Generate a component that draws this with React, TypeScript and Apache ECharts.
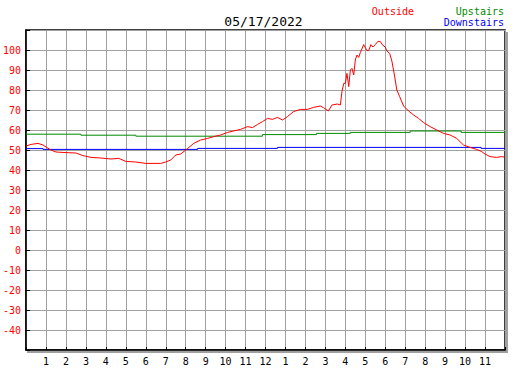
import React, { useEffect, useRef } from "react";
import * as echarts from "echarts";

const titleText = "05/17/2022";
const seriesNames = ["Outside", "Upstairs", "Downstairs"];
const seriesColors = ["#ff0000", "#008c00", "#0000ff"];

const outsideHours = [0, 0.25, 0.6, 0.85, 1.0, 1.25, 1.5, 2.0, 2.5, 2.85, 3.25, 3.75, 4.25, 4.65, 5.0, 5.5, 6.0, 6.75, 7.0, 7.25, 7.5, 7.75, 8.1, 8.4, 8.75, 9.1, 9.4, 9.75, 10.1, 10.4, 10.75, 11.1, 11.35, 11.6, 11.85, 12.1, 12.35, 12.6, 12.85, 13.1, 13.4, 13.75, 14.1, 14.4, 14.75, 14.9, 15.15, 15.33, 15.6, 15.75, 15.83, 15.92, 16.0, 16.08, 16.17, 16.25, 16.33, 16.42, 16.5, 16.58, 16.67, 16.75, 16.92, 17.08, 17.17, 17.28, 17.38, 17.5, 17.63, 17.75, 17.88, 18.0, 18.08, 18.22, 18.33, 18.45, 18.58, 18.72, 18.92, 19.17, 19.42, 19.67, 19.92, 20.25, 20.58, 20.92, 21.25, 21.58, 21.92, 22.25, 22.58, 22.83, 23.0, 23.25, 23.58, 23.83, 23.95];
const outsideTemps = [52, 52.8, 53.3, 52.5, 51.5, 50, 49, 48.7, 48.5, 47.2, 46.3, 46, 45.5, 45.8, 44.3, 44, 43.3, 43.3, 44, 45, 47.5, 48, 50.8, 53.3, 55, 55.8, 56.7, 57.5, 58.8, 59.5, 60.3, 61.7, 61.2, 62.8, 64.2, 65.8, 65.3, 66.3, 65, 66.7, 69.2, 70.3, 70.3, 71.3, 72, 71.2, 69.5, 72.5, 73, 72.5, 79.2, 83.3, 83.3, 88.3, 81.7, 90, 90.8, 87.5, 95, 97.5, 96.3, 98.7, 102.7, 99.7, 99.7, 102.7, 101.5, 102.7, 104.3, 104.3, 102.3, 101.5, 99.5, 98.3, 94.5, 88, 80, 76.7, 72, 69.5, 67.5, 65.8, 63.7, 61.7, 60, 58.3, 57.5, 55.8, 52.5, 51.3, 50.3, 49.2, 48, 46.7, 46.3, 46.7, 46.5];

const upstairsHours = [0, 2.75, 5.5, 11.85, 14.55, 16.25, 19.25, 21.8, 24];
const upstairsTemps = [57.9, 57.4, 56.9, 57.7, 58.3, 58.8, 59.5, 58.8, 58.8];

const downstairsHours = [0, 0.85, 8.6, 12.6, 22.8, 24];
const downstairsTemps = [50.7, 50.3, 50.8, 51.3, 50.8, 50.8];

const yMin = -50;
const yMax = 110;
const yStep = 10;
const xMin = 0;
const xMax = 24;

const pairs = (xs: number[], ys: number[]) => xs.map((x, i) => [x, ys[i]]);

const MONO = "'DejaVu Sans Mono', 'Liberation Mono', monospace";

export default function App() {
  const ref = useRef<HTMLDivElement>(null);
  useEffect(() => {
    document.body.style.margin = "0";
    if (!ref.current) return;
    const chart = echarts.init(ref.current, null, { renderer: "svg" });
    const gridLeft = 25;
    const gridTop = 30;
    const gridW = 480;
    const gridH = 320;
    chart.setOption({
      animation: false,
      backgroundColor: "#ffffff",
      title: {
        text: titleText,
        left: "center",
        top: 10,
        textStyle: { fontFamily: MONO, fontSize: 13, fontWeight: "normal", color: "#000" },
      },
      grid: {
        left: gridLeft,
        top: gridTop,
        width: gridW,
        height: gridH,
        show: true,
        backgroundColor: "#ffffff",
        borderColor: "#000000",
        borderWidth: 1.5,
      },
      graphic: [
        { type: "rect", shape: { x: gridLeft + gridW + 1, y: gridTop + 2, width: 2, height: gridH + 1 }, style: { fill: "#a0a0a0" }, silent: true },
        { type: "rect", shape: { x: gridLeft + 2, y: gridTop + gridH + 1, width: gridW + 1, height: 2 }, style: { fill: "#a0a0a0" }, silent: true },
        { type: "text", x: 414, y: 11, style: { text: seriesNames[0], fill: seriesColors[0], font: `10px ${MONO}`, textAlign: "right", textVerticalAlign: "middle" } },
        { type: "text", x: 504, y: 11, style: { text: seriesNames[1], fill: seriesColors[1], font: `10px ${MONO}`, textAlign: "right", textVerticalAlign: "middle" } },
        { type: "text", x: 504, y: 22.5, style: { text: seriesNames[2], fill: seriesColors[2], font: `10px ${MONO}`, textAlign: "right", textVerticalAlign: "middle" } },
      ],
      xAxis: {
        type: "value",
        min: xMin,
        max: xMax,
        interval: 1,
        axisLine: { show: true, onZero: false, lineStyle: { color: "#000", width: 1.5 } },
        axisTick: { show: true, inside: true, length: 3, lineStyle: { color: "#000", width: 1 } },
        splitLine: { show: true, lineStyle: { color: "#a0a0a0", width: 1 } },
        axisLabel: {
          margin: 6,
          fontFamily: MONO,
          fontSize: 10,
          color: "#000",
          formatter: (v: number) => {
            if (v <= 0 || v >= 24) return "";
            const h = v % 12;
            return String(h === 0 ? 12 : h);
          },
        },
      },
      yAxis: {
        type: "value",
        min: yMin,
        max: yMax,
        interval: yStep,
        axisLine: { show: true, onZero: false, lineStyle: { color: "#000", width: 1.5 } },
        axisTick: { show: true, inside: true, length: 4, lineStyle: { color: "#000", width: 1 } },
        splitLine: { show: true, lineStyle: { color: "#a0a0a0", width: 1 } },
        axisLabel: {
          margin: 5,
          fontFamily: MONO,
          fontSize: 10,
          color: "#ff0000",
          formatter: (v: number) => (v <= yMin || v >= yMax ? "" : String(v)),
        },
      },
      series: [
        {
          name: seriesNames[1],
          type: "line",
          step: "end",
          showSymbol: false,
          data: pairs(upstairsHours, upstairsTemps),
          lineStyle: { color: seriesColors[1], width: 1 },
          itemStyle: { color: seriesColors[1] },
        },
        {
          name: seriesNames[2],
          type: "line",
          step: "end",
          showSymbol: false,
          data: pairs(downstairsHours, downstairsTemps),
          lineStyle: { color: seriesColors[2], width: 1 },
          itemStyle: { color: seriesColors[2] },
        },
        {
          name: seriesNames[0],
          type: "line",
          showSymbol: false,
          data: pairs(outsideHours, outsideTemps),
          lineStyle: { color: seriesColors[0], width: 1 },
          itemStyle: { color: seriesColors[0] },
        },
      ],
    });
    return () => chart.dispose();
  }, []);
  return <div ref={ref} style={{ width: 527, height: 370 }} />;
}
